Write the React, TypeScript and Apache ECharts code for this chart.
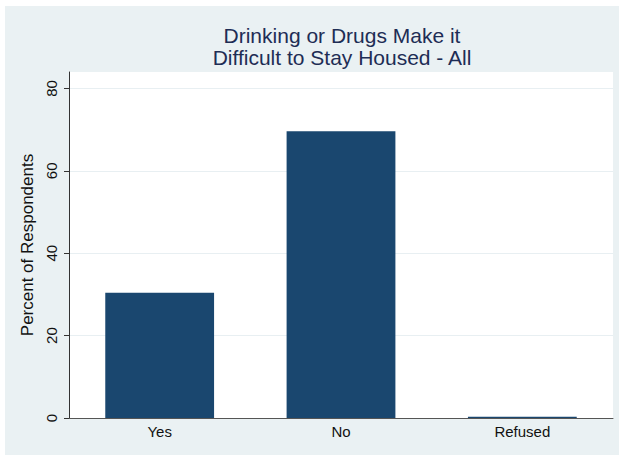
import { useEffect, useRef } from "react";
import * as echarts from "echarts";

const categories = ["Yes", "No", "Refused"];
const percents = [30.4, 69.6, 0.3];
const yTickValues = [0, 20, 40, 60, 80];
const titleText = "Drinking or Drugs Make it\nDifficult to Stay Housed - All";
const yAxisTitle = "Percent of Respondents";

const FONT = "'Liberation Sans', Helvetica, Arial, sans-serif";

export default function App() {
  const ref = useRef<HTMLDivElement>(null);
  useEffect(() => {
    const chart = echarts.init(ref.current!, null, { renderer: "svg" });
    chart.setOption({
      animation: false,
      backgroundColor: "#ffffff",
      graphic: [
        {
          type: "rect",
          z: -10,
          silent: true,
          shape: { x: 5, y: 6, width: 614, height: 449 },
          style: { fill: "#eaf1f3" },
        },
      ],
      title: {
        text: titleText,
        left: 342,
        top: 24,
        padding: 0,
        textAlign: "center",
        textStyle: {
          fontFamily: FONT,
          fontSize: 21,
          lineHeight: 22,
          fontWeight: "normal",
          color: "#1e2d55",
        },
      },
      grid: {
        left: 69,
        right: 10,
        top: 72,
        bottom: 40,
        show: true,
        backgroundColor: "#ffffff",
        borderWidth: 0,
      },
      xAxis: {
        type: "category",
        data: categories,
        axisLine: { show: true, lineStyle: { color: "#555555", width: 1 } },
        axisTick: { show: false },
        axisLabel: {
          fontFamily: FONT,
          fontSize: 15,
          color: "#111111",
          margin: 6,
        },
        splitLine: { show: false },
      },
      yAxis: {
        type: "value",
        min: 0,
        max: 84,
        interval: 20,
        name: yAxisTitle,
        nameLocation: "middle",
        nameGap: 27,
        nameTextStyle: {
          fontFamily: FONT,
          fontSize: 17,
          color: "#111111",
        },
        axisLine: { show: true, lineStyle: { color: "#333333", width: 1 } },
        axisTick: {
          show: true,
          length: 5,
          customValues: yTickValues,
          lineStyle: { color: "#333333" },
        },
        axisLabel: {
          fontFamily: FONT,
          fontSize: 15,
          color: "#111111",
          rotate: 90,
          margin: 10,
          customValues: yTickValues,
        },
        splitLine: { show: true, lineStyle: { color: "#e8eff2", width: 1 } },
      },
      series: [
        {
          type: "bar",
          data: percents,
          barCategoryGap: "40%",
          itemStyle: { color: "#1a476f" },
        },
      ],
    });
    return () => chart.dispose();
  }, []);
  return (
    <div
      ref={ref}
      style={{ position: "fixed", left: 0, top: 0, width: 623, height: 458 }}
    />
  );
}
